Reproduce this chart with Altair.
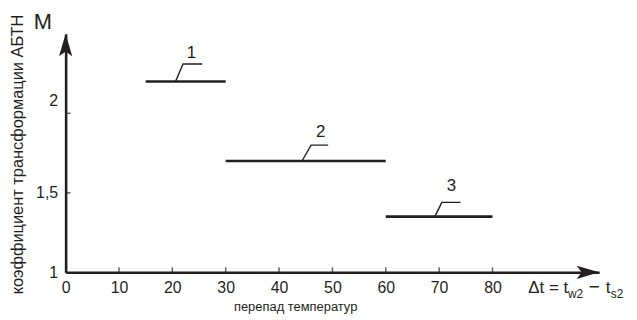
import altair as alt
import pandas as pd

# segment data
seg_id = ["1", "2", "3"]
seg_x_start = [15, 30, 60]
seg_x_end = [30, 60, 80]
seg_y = [2.2, 1.7, 1.35]

# leader (callout) polylines
lead_id = ["1", "1", "1", "2", "2", "2", "3", "3", "3"]
lead_order = [0, 1, 2, 0, 1, 2, 0, 1, 2]
lead_x = [20.6, 22.0, 25.6, 44.3, 46.0, 49.2, 69.2, 70.5, 74.0]
lead_y = [2.2, 2.31, 2.31, 1.7, 1.80, 1.80, 1.35, 1.44, 1.44]

# callout labels
lab_text = ["1", "2", "3"]
lab_x = [23.6, 47.8, 72.3]
lab_y = [2.38, 1.88, 1.54]

x_ticks = [0, 10, 20, 30, 40, 50, 60, 70, 80]
y_ticks = [1, 1.5, 2]

INK = "#231f20"
FONT = "Liberation Sans"

segs = pd.DataFrame({"id": seg_id, "x": seg_x_start, "x2": seg_x_end, "y": seg_y})
leads = pd.DataFrame({"id": lead_id, "o": lead_order, "x": lead_x, "y": lead_y})
labs = pd.DataFrame({"t": lab_text, "x": lab_x, "y": lab_y})
xt = pd.DataFrame({"x": x_ticks[1:], "y": [1] * (len(x_ticks) - 1)})
yt = pd.DataFrame({"x": [0, 0], "y": y_ticks[1:]})
xarrow = pd.DataFrame({"x": [100], "y": [1]})
yarrow = pd.DataFrame({"x": [0], "y": [2.5]})
mlab = pd.DataFrame({"x": [0], "y": [2.5]})
dtlab = pd.DataFrame({"x": [80], "y": [1]})

xs = alt.Scale(domain=[0, 100], nice=False, zero=False)
ys = alt.Scale(domain=[1, 2.5], nice=False, zero=False)

xaxis = alt.Axis(values=x_ticks, title="перепад температур", titleX=231, titleY=34,
                 titleBaseline="middle", titleFontSize=13, titleFontWeight="normal",
                 labelPadding=7, labelFlush=False)
yaxis = alt.Axis(values=y_ticks, title="коэффициент трансформации АБТН", titleX=-48,
                 titleY=121, titleBaseline="middle", titleFontSize=16.5, titleFontWeight="normal",
                 labelPadding=8,
                 labelExpr="replace(format(datum.value, ''), '.', ',')",
                 labelOffset={"condition": {"test": "datum.value == 2", "value": -13}, "value": 0})


def X(field="x"):
    return alt.X(field, type="quantitative", scale=xs, axis=xaxis)


def Y(field="y"):
    return alt.Y(field, type="quantitative", scale=ys, axis=yaxis)


base = alt.Chart(segs).mark_rule(color=INK, strokeWidth=2.6).encode(
    x=X(), x2="x2", y=Y()
)

leaders = alt.Chart(leads).mark_line(color=INK, strokeWidth=1.4).encode(
    x=X(), y=Y(), detail="id", order="o"
)

labels = alt.Chart(labs).mark_text(color=INK, font=FONT, fontSize=17).encode(
    x=X(), y=Y(), text="t"
)

xticks = alt.Chart(xt).mark_tick(color=INK, orient="vertical", size=5, thickness=1.5,
                                 yOffset=-2.5).encode(x=X(), y=Y())
yticks = alt.Chart(yt).mark_tick(color=INK, orient="horizontal", size=5, thickness=1.5,
                                 xOffset=2.5).encode(x=X(), y=Y())

arrow_right = "M0,0 L-1.6,-0.47 L-1.25,0 L-1.6,0.47 Z"
arrow_up = "M0,0 L-0.47,1.6 L0,1.25 L0.47,1.6 Z"
xarr = alt.Chart(xarrow).mark_point(shape=arrow_right, size=800, filled=True, color=INK,
                                    opacity=1, strokeWidth=0).encode(x=X(), y=Y())
yarr = alt.Chart(yarrow).mark_point(shape=arrow_up, size=800, filled=True, color=INK,
                                    opacity=1, strokeWidth=0).encode(x=X(), y=Y())

m_text = alt.Chart(mlab).mark_text(text="M", font=FONT, fontSize=22, color=INK,
                                   dx=-23, dy=-12).encode(x=X(), y=Y())


# Δt = t_w2 − t_s2 built from pieces
def piece(txt, dx, dy, fs):
    return alt.Chart(dtlab).mark_text(text=txt, font=FONT, fontSize=fs, color=INK,
                                      align="left", baseline="alphabetic",
                                      dx=dx, dy=dy).encode(x=X(), y=Y())


dt = (piece("Δt = t", 36, 21, 17) + piece("w2", 76, 26, 12) + piece("−", 97, 21, 19)
      + piece("t", 114, 21, 17) + piece("s2", 119, 26, 12))

chart = alt.layer(base, leaders, labels, xticks, yticks, xarr, yarr, m_text, dt).properties(
    width=537, height=240,
    autosize=alt.AutoSizeParams(type="none"),
    padding={"left": 58, "top": 25, "right": 30, "bottom": 43},
).configure_view(stroke=None).configure_axis(
    domainColor=INK, domainWidth=2.6, ticks=False, grid=False,
    labelFont=FONT, labelFontSize=16, labelColor=INK,
    titleFont=FONT, titleColor=INK,
)

chart.save("out.html", embed_options={"renderer": "svg", "actions": False})
